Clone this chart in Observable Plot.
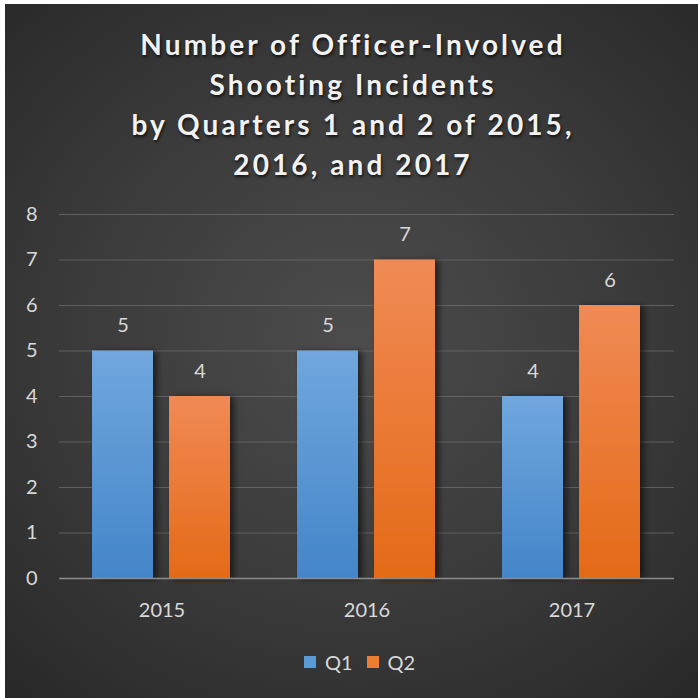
<!DOCTYPE html>
<html>
<head>
<meta charset="utf-8">
<script src="https://cdn.jsdelivr.net/npm/d3@7"></script>
<script src="https://cdn.jsdelivr.net/npm/@observablehq/plot@0.6"></script>
<style>
  html, body { margin: 0; padding: 0; background: #ffffff; }
  #panel {
    position: absolute; left: 5px; top: 4px; width: 693px; height: 694px;
    background: radial-gradient(ellipse 75% 70% at 50% 48%, #4c4c4c 0%, #3a3a3a 55%, #282828 100%);
    font-family: Lato, "Open Sans", sans-serif;
    overflow: hidden;
  }
  #title {
    height: 190px; box-sizing: border-box; padding-top: 20px; padding-left: 3px;
    text-align: center; color: #f2f2f2; font-weight: bold; font-size: 28px;
    line-height: 40px; letter-spacing: 3.1px;
    text-shadow: 1px 2px 3px rgba(0,0,0,0.7);
  }
  #legend {
    display: flex; justify-content: center; align-items: center; gap: 14px;
    color: #d9d9d9; font-size: 20px; margin-top: 20px; padding-left: 16px;
  }
  .item { display: flex; align-items: center; gap: 9px; }
  .sw { width: 12px; height: 12px; display: inline-block; }
</style>
</head>
<body>
<svg width="0" height="0" style="position:absolute">
  <defs>
    <linearGradient id="gQ1" x1="0" y1="0" x2="0" y2="1">
      <stop offset="0" stop-color="#70a7dd"/>
      <stop offset="1" stop-color="#4485c9"/>
    </linearGradient>
    <linearGradient id="gQ2" x1="0" y1="0" x2="0" y2="1">
      <stop offset="0" stop-color="#f08a55"/>
      <stop offset="1" stop-color="#e46a17"/>
    </linearGradient>
    <filter id="shadow" x="-20%" y="-10%" width="150%" height="120%">
      <feDropShadow dx="4" dy="1" stdDeviation="3" flood-color="#000" flood-opacity="0.55"/>
    </filter>
  </defs>
</svg>
<div id="panel">
  <div id="title">Number of Officer-Involved<br>Shooting Incidents<br>by Quarters 1 and 2 of 2015,<br>2016, and 2017</div>
  <div id="chart"></div>
  <div id="legend"></div>
</div>
<script>
const years = ["2015", "2016", "2017"];
const quarters = ["Q1", "Q2"];
const q1Values = [5, 5, 4];
const q2Values = [4, 7, 6];
const yTicks = [0, 1, 2, 3, 4, 5, 6, 7, 8];
const legendColors = ["#5b9bd5", "#ed7d31"];

const data = [];
years.forEach((y, i) => {
  data.push({year: y, q: "Q1", value: q1Values[i]});
  data.push({year: y, q: "Q2", value: q2Values[i]});
});

const chart = Plot.plot({
  width: 693,
  height: 436,
  marginTop: 20,
  marginBottom: 52,
  marginLeft: 53,
  marginRight: 23,
  style: {background: "transparent", color: "#d9d9d9", fontFamily: "Lato, 'Open Sans', sans-serif", fontSize: "20px"},
  fx: {domain: years, padding: 0, label: null, tickSize: 0, tickPadding: 24, axis: "bottom"},
  x: {domain: quarters, paddingInner: 0.205, paddingOuter: 0.42, axis: null},
  y: {domain: [0, 8], ticks: yTicks, label: null, tickSize: 0, tickPadding: 22},
  color: {domain: quarters, range: ["url(#gQ1)", "url(#gQ2)"]},
  marks: [
    Plot.gridY(yTicks.filter(d => d > 0), {stroke: "#6a6a6a", strokeOpacity: 0.8, strokeWidth: 1}),
    Plot.barY(data, {fx: "year", x: "q", y: "value", fill: "q"}),
    Plot.ruleY([0], {stroke: "#8c8c8c", strokeWidth: 1.5}),
    Plot.text(data, {fx: "year", x: "q", y: "value", text: d => String(d.value), dy: -25, fill: "#d9d9d9", fontSize: 20})
  ]
});
chart.querySelectorAll("g[aria-label='bar'] rect").forEach(r => r.setAttribute("filter", "url(#shadow)"));
document.getElementById("chart").appendChild(chart);

const legend = document.getElementById("legend");
quarters.forEach((q, i) => {
  const it = document.createElement("div");
  it.className = "item";
  const sw = document.createElement("span");
  sw.className = "sw";
  sw.style.background = legendColors[i];
  const t = document.createElement("span");
  t.textContent = q;
  it.appendChild(sw); it.appendChild(t);
  legend.appendChild(it);
});
</script>
</body>
</html>
